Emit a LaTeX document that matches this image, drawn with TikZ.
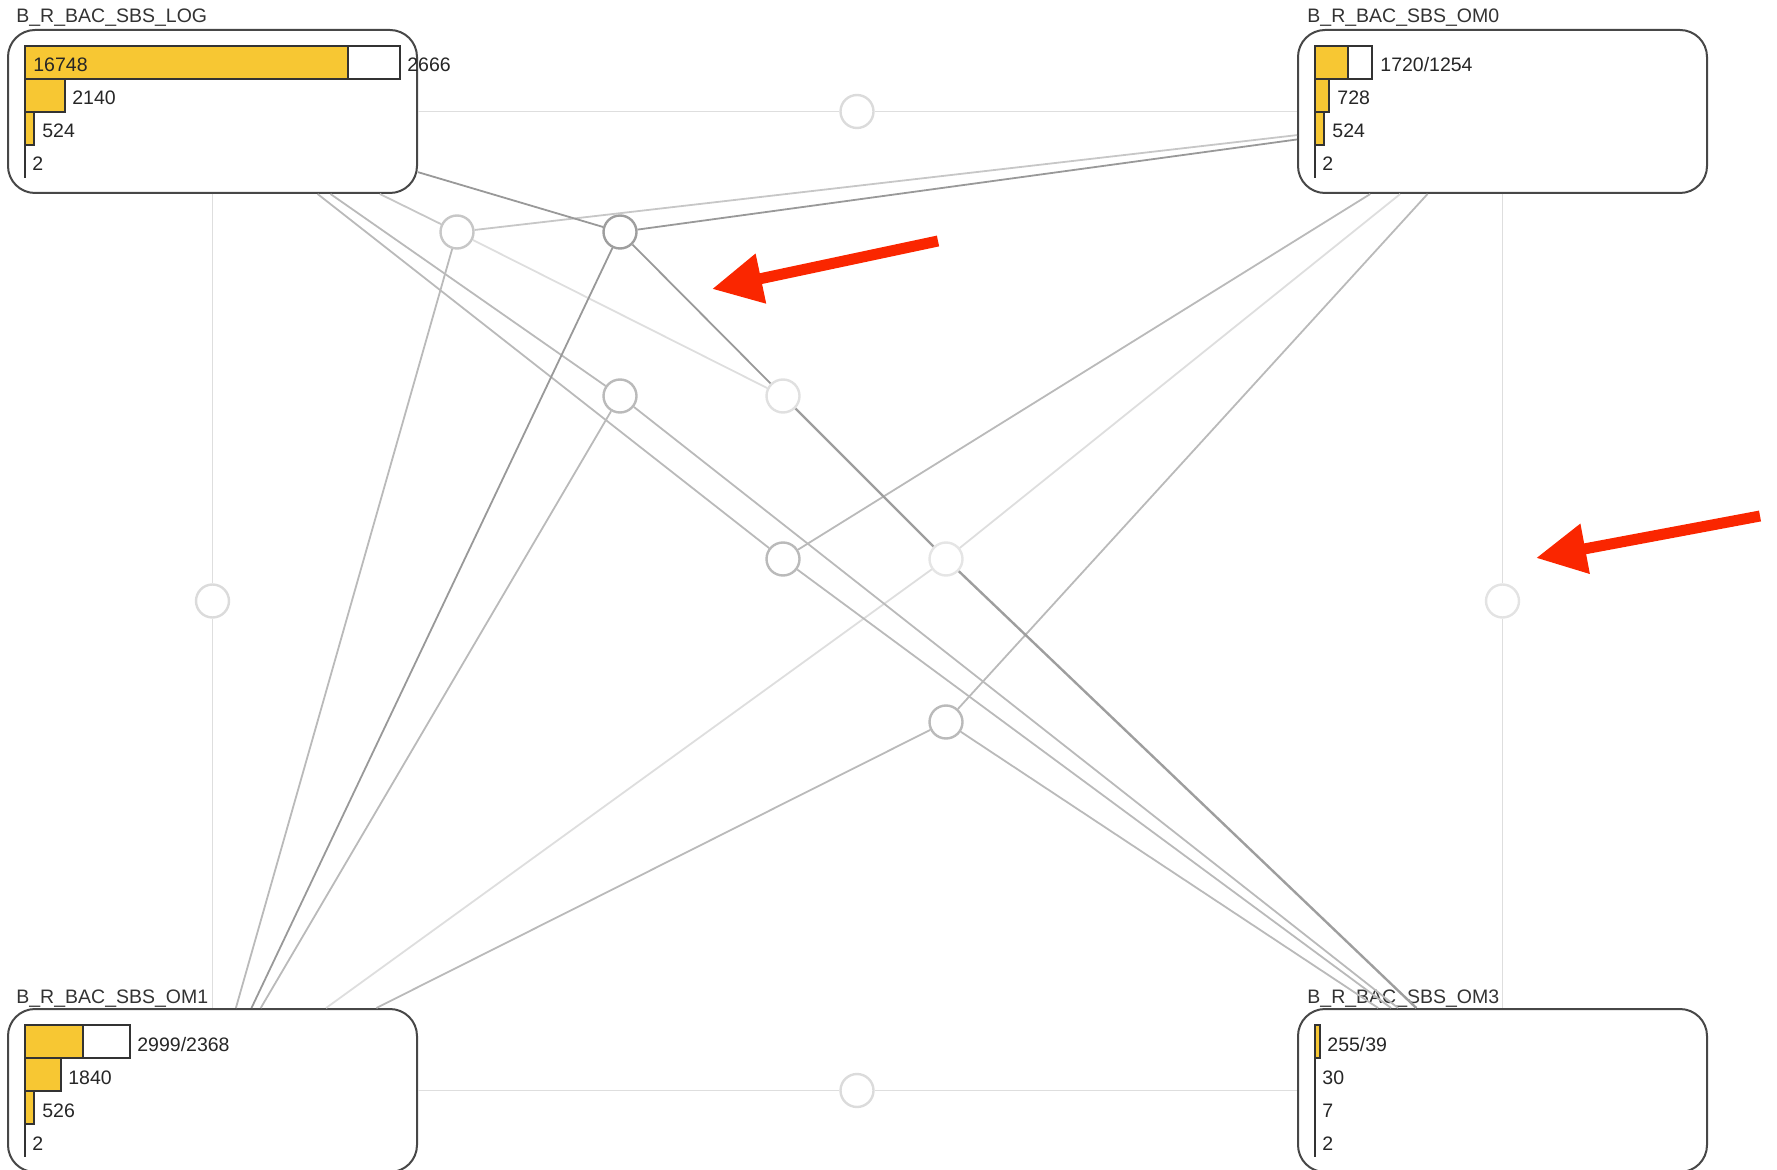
\documentclass[tikz,border=0pt]{standalone}
\usepackage{fontspec}
\setmainfont{Liberation Sans}
\usetikzlibrary{arrows.meta}
\definecolor{baryellow}{RGB}{247,199,51}
\definecolor{markred}{RGB}{250,38,0}

\begin{document}
\begin{tikzpicture}[x=0.5pt,y=-0.5pt,
    stage/.style={draw=black!72,line width=1pt,rounded corners=13.5pt,minimum width=204.5pt,minimum height=81.5pt,inner sep=0},
    hub/.style={circle,draw=#1,fill=white,line width=1.2pt,minimum size=16.5pt,inner sep=0},
    hub/.default=black!14,
    title/.style={anchor=base west,inner sep=0,text=black!80,font=\fontsize{9.75}{11}\selectfont},
    val/.style={anchor=base west,inner sep=0,text=black!85,font=\fontsize{9.75}{11}\selectfont},
    bar/.style={draw=black!80,line width=0.75pt},
    link/.style={draw=#1,line width=0.9pt},
    link/.default=black!25,
    pointer/.style={draw=markred,line width=5.5pt,-{Triangle[length=25pt,width=24pt]}}]
    \useasboundingbox (0,0) rectangle (1777,1170);

    \node[stage] (log) at (212.5,111.5) {};
    \node[stage] (om0) at (1502.5,111.5) {};
    \node[stage] (om1) at (212.5,1090.5) {};
    \node[stage] (om3) at (1502.5,1090.5) {};

    \node[title] (logname) at (16,23) {B\_R\_BAC\_SBS\_LOG};
    \node[title] (om0name) at (1307,23) {B\_R\_BAC\_SBS\_OM0};
    \node[title] (om1name) at (16,1003) {B\_R\_BAC\_SBS\_OM1};
    \node[title] (om3name) at (1307,1003) {B\_R\_BAC\_SBS\_OM3};

    \node[hub] (hubtop) at (857,111.5) {};
    \node[hub] (hubleft) at (212.5,601) {};
    \node[hub=black!11] (hubright) at (1502.5,601) {};
    \node[hub] (hubbot) at (857,1090.5) {};
    \node[hub=black!22] (hubA) at (457,232) {};
    \node[hub=black!38] (hubB) at (620,232) {};
    \node[hub=black!27] (hubC) at (620,396) {};
    \node[hub=black!12] (hubD) at (783,396) {};
    \node[hub=black!27] (hubE) at (783,559) {};
    \node[hub=black!10] (hubF) at (946,559) {};
    \node[hub=black!27] (hubG) at (946,722) {};

    \foreach \from/\to in {log/hubtop,hubtop/om0,log/hubleft,hubleft/om1,om0/hubright,hubright/om3,om1/hubbot,hubbot/om3,hubA/hubD,hubF/om0,hubF/om1}
        \draw[link=black!13] (\from)--(\to);
    \foreach \from/\to in {log/hubA,hubA/om0}
        \draw[link=black!22] (\from)--(\to);
    \foreach \from/\to in {hubA/om1,log/hubC,hubC/om1,hubC/om3,log/hubE,hubE/om0,hubE/om3,hubG/om0,hubG/om1,hubG/om3}
        \draw[link=black!27] (\from)--(\to);
    \foreach \from/\to in {log/hubB,hubB/om0,hubB/om1,hubB/hubD}
        \draw[link=black!40] (\from)--(\to);
    \foreach \from/\to in {hubD/hubF,hubF/om3}
        \draw[link=black!38,line width=1.2pt] (\from)--(\to);

    \foreach \x/\y/\r in {25/46/400,1315/46/1372,25/1025/130}
        \draw[bar,fill=white] (\x,\y) rectangle (\r,{\y+33});
    \foreach \x/\y/\r in {25/46/348,25/79/65,25/112/34,1315/46/1348,1315/79/1329,1315/112/1324,25/1025/83,25/1058/61,25/1091/34,1315/1025/1320}
        \draw[bar,fill=baryellow] (\x,\y) rectangle (\r,{\y+33});
    \foreach \x/\y in {25/46,1315/46,25/1025,1315/1025}
        \draw[bar] (\x,\y)--(\x,{\y+132});

    \node[val] (logv1) at (33,72) {16748};
    \node[val] (logv1b) at (407,72) {2666};
    \node[val] (logv2) at (72,105) {2140};
    \node[val] (logv3) at (42,138) {524};
    \node[val] (logv4) at (32,171) {2};

    \node[val] (om0v1) at (1380,72) {1720/1254};
    \node[val] (om0v2) at (1337,105) {728};
    \node[val] (om0v3) at (1332,138) {524};
    \node[val] (om0v4) at (1322,171) {2};

    \node[val] (om1v1) at (137,1051) {2999/2368};
    \node[val] (om1v2) at (68,1084) {1840};
    \node[val] (om1v3) at (42,1117) {526};
    \node[val] (om1v4) at (32,1150) {2};

    \node[val] (om3v1) at (1327,1051) {255/39};
    \node[val] (om3v2) at (1322,1084) {30};
    \node[val] (om3v3) at (1322,1117) {7};
    \node[val] (om3v4) at (1322,1150) {2};

    \coordinate (tipA) at (712,289);
    \coordinate (tailA) at (938,241);
    \coordinate (tipB) at (1536,558);
    \coordinate (tailB) at (1760,516);
    \draw[pointer] (tailA) -- (tipA);
    \draw[pointer] (tailB) -- (tipB);
\end{tikzpicture}
\end{document}
